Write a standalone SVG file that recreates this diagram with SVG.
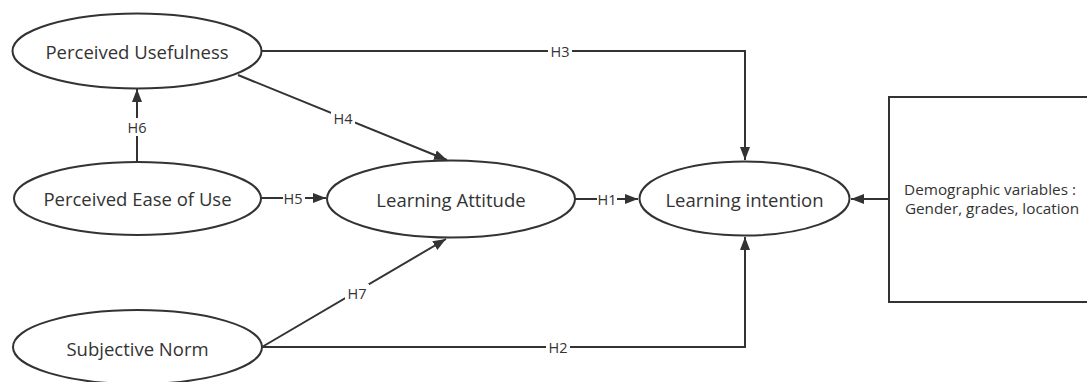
<svg xmlns="http://www.w3.org/2000/svg" width="1087" height="382" viewBox="0 0 1087 382">
<style>
.node{fill:#fff;stroke:#333;stroke-width:2}
.nt{font-family:"Open Sans","Noto Sans",sans-serif;font-size:18.5px;fill:#333;text-anchor:middle;dominant-baseline:central}
.ln{fill:none;stroke:#333;stroke-width:2}
.lbg{fill:#fff}
.lt{font-family:"Open Sans","Noto Sans",sans-serif;font-size:14.5px;fill:#333;text-anchor:middle;dominant-baseline:central}
.bt{font-family:"Open Sans","Noto Sans",sans-serif;font-size:15.3px;fill:#333;text-anchor:middle}
</style>
<defs>
<marker id="arr" markerUnits="userSpaceOnUse" markerWidth="14" markerHeight="12" refX="13" refY="5" orient="auto">
<path d="M0,0 L13,5 L0,10 Z" fill="#333"/>
</marker>
</defs>
<rect width="1087" height="382" fill="#fff"/>
<g id="connectors">
<path class="ln" d="M262,51 H745 V160" marker-end="url(#arr)"/>
<path class="ln" d="M262,347 H745 V237" marker-end="url(#arr)"/>
<path class="ln" d="M238,75 L447,160" marker-end="url(#arr)"/>
<path class="ln" d="M262,347 L446,239" marker-end="url(#arr)"/>
<path class="ln" d="M137,162 V89" marker-end="url(#arr)"/>
<path class="ln" d="M261,198 H326" marker-end="url(#arr)"/>
<path class="ln" d="M575,199 H638" marker-end="url(#arr)"/>
<path class="ln" d="M889,199 H851" marker-end="url(#arr)"/>
<rect class="lbg" x="548" y="42" width="24" height="18"/><text class="lt" x="560" y="51">H3</text>
<rect class="lbg" x="546" y="338" width="24" height="18"/><text class="lt" x="558" y="347">H2</text>
<rect class="lbg" x="331" y="109" width="24" height="18"/><text class="lt" x="343" y="118">H4</text>
<rect class="lbg" x="345" y="284" width="24" height="18"/><text class="lt" x="357" y="293">H7</text>
<rect class="lbg" x="125" y="118" width="24" height="18"/><text class="lt" x="137" y="127">H6</text>
<rect class="lbg" x="283" y="189" width="22" height="18"/><text class="lt" x="293" y="198">H5</text>
<rect class="lbg" x="597" y="190" width="20" height="18"/><text class="lt" x="607" y="199">H1</text>
</g>
<g id="pu">
<ellipse class="node" cx="137" cy="51" rx="124.5" ry="37.5"/>
<text class="nt" x="137" y="51">Perceived Usefulness</text>
</g>
<g id="peou">
<ellipse class="node" cx="137.5" cy="198.5" rx="123.5" ry="36.5"/>
<text class="nt" x="137.5" y="198.5">Perceived Ease of Use</text>
</g>
<g id="sn">
<ellipse class="node" cx="137.5" cy="347" rx="124.5" ry="37"/>
<text class="nt" x="137.5" y="348">Subjective Norm</text>
</g>
<g id="la">
<ellipse class="node" cx="451" cy="199" rx="124" ry="38.5"/>
<text class="nt" x="451" y="199">Learning Attitude</text>
</g>
<g id="li">
<ellipse class="node" cx="744.5" cy="198.5" rx="105" ry="37"/>
<text class="nt" x="744.5" y="199">Learning intention</text>
</g>
<g id="demo">
<rect class="node" x="889" y="97" width="210" height="205"/>
<text class="bt" x="990" y="195">Demographic variables :</text>
<text class="bt" x="992" y="214">Gender, grades, location</text>
</g>
</svg>
